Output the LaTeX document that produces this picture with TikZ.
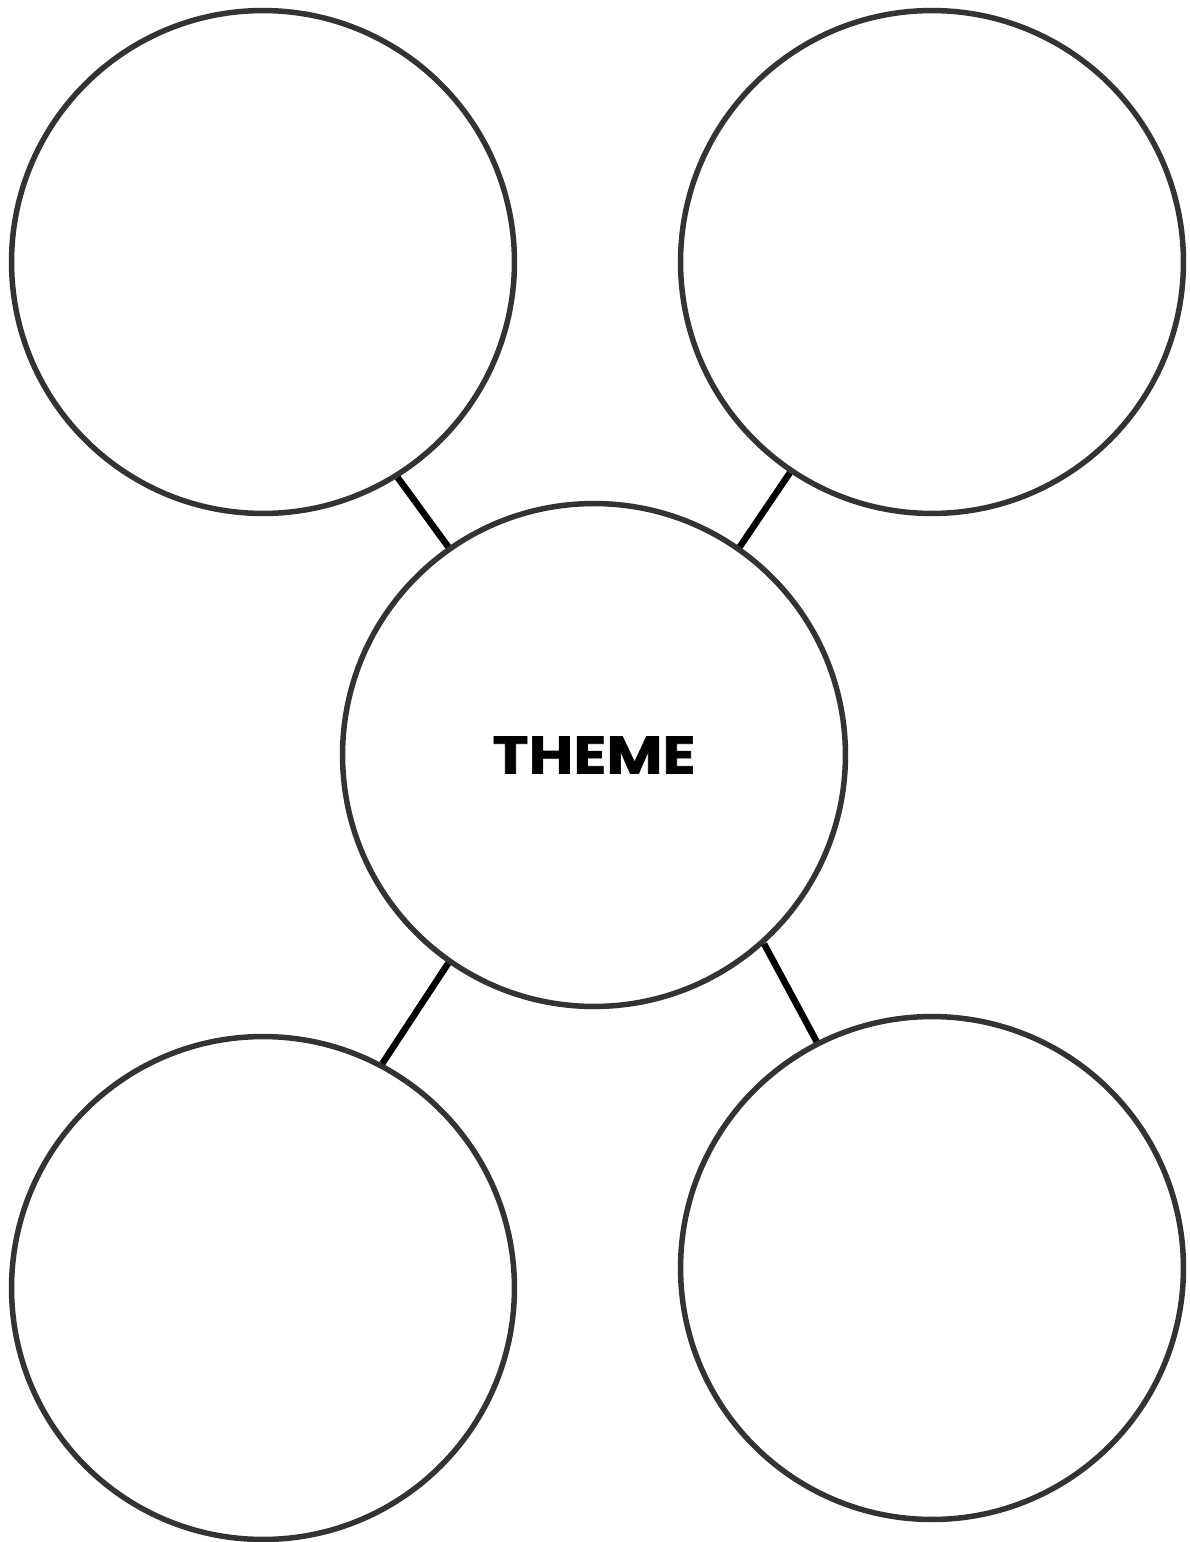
\documentclass[tikz,border=0pt]{standalone}
\usepackage{fontspec}
\setmainfont{Poppins}
\newfontfamily\temafont[FakeStretch=1.16, BoldFeatures={FakeBold=1.2}]{Poppins}
\usetikzlibrary{positioning}

\begin{document}
\begin{tikzpicture}[
    x=0.02cm, y=-0.02cm,
    burbuja/.style = {circle, draw=black!80, line width=0.11cm, minimum size=10.06cm, inner sep=0pt},
    tema/.style    = {font=\temafont\fontsize{30}{30}\selectfont\bfseries},
    enlace/.style  = {line width=0.13cm, black},
]
\useasboundingbox (0,0) rectangle (1190,1542);

% --- Burbujas ---
\node[burbuja] (centro) at (594,755)  {};
\node[burbuja] (supi)   at (263,262)  {};
\node[burbuja] (supd)   at (932,262)  {};
\node[burbuja] (infi)   at (263,1288) {};
\node[burbuja] (infd)   at (932,1268) {};

% --- Texto central ---
\node[tema] (titulo) at (centro) {THEME};

% --- Enlaces ---
\draw[enlace] (supi.-58)   -- (centro.125);
\draw[enlace] (supd.-124)  -- (centro.55);
\draw[enlace] (centro.-125) -- (infi.62);
\draw[enlace] (centro.-48) -- (infd.117);

\end{tikzpicture}
\end{document}
